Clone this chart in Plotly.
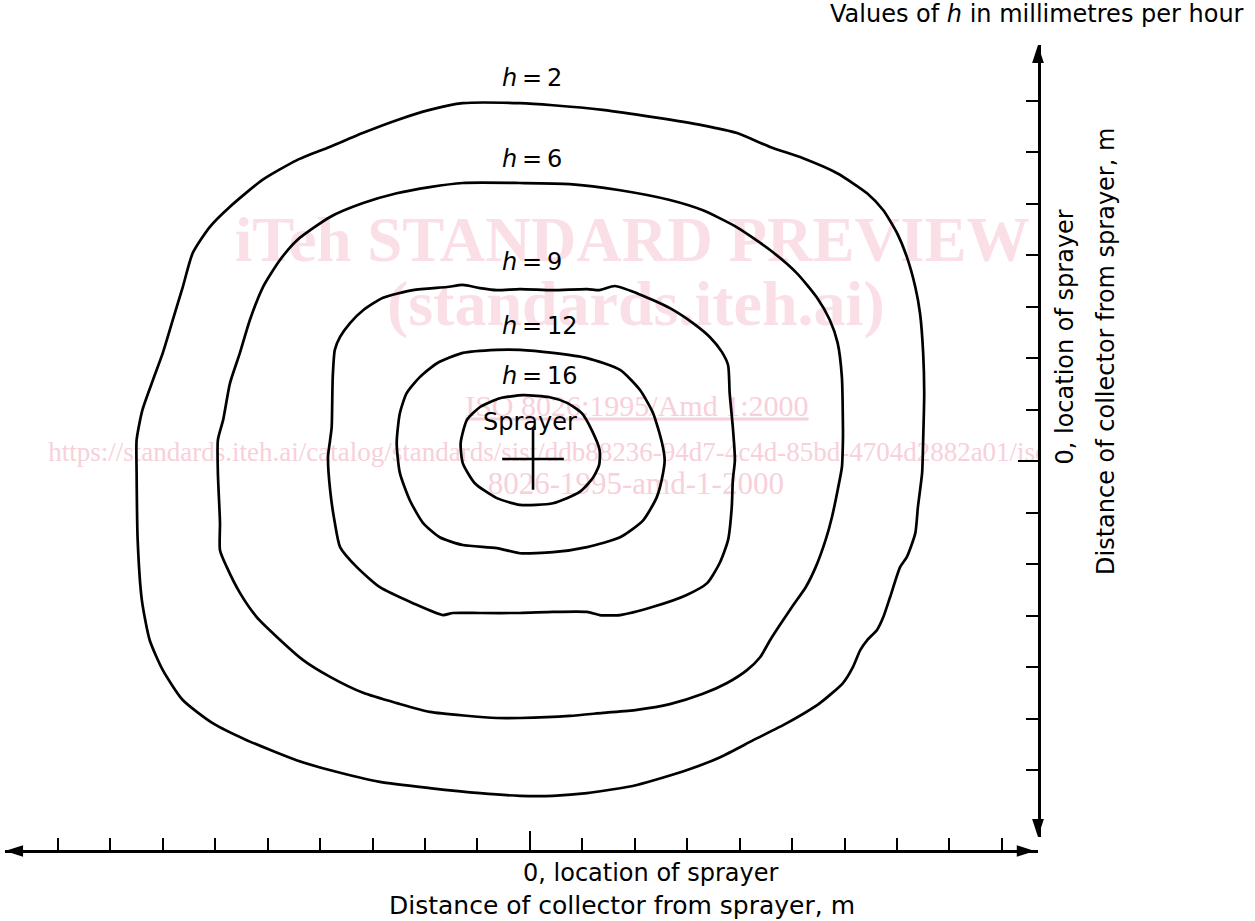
import plotly.graph_objects as go

# Lines of equal application rate h (mm/h) round the sprayer.
# Coordinates: distance of collector from sprayer, m (one tick = 1 m)
h_levels = [2, 6, 9, 12, 16]

h2_x = [-1.28, -0.19, 0.44, 1.39, 2.35, 3.30, 3.95, 4.58, 5.21, 5.86,
        6.43, 6.74, 7.00, 7.19, 7.35, 7.44, 7.50, 7.52, 7.50, 7.48,
        7.40, 7.35, 7.19, 7.06, 6.87, 6.74, 6.62, 6.43, 6.30, 6.16,
        5.97, 5.53, 4.90, 4.26, 3.63, 3.00, 2.04, 1.09, 0.44, -0.19,
        -0.95, -1.91, -2.86, -3.82, -4.45, -5.40, -6.05, -6.62, -7.00, -7.25,
        -7.40, -7.48, -7.50, -7.50, -7.39, -7.19, -7.00, -6.81, -6.62, -6.43,
        -6.11, -5.73, -5.10, -4.45, -3.82, -3.19, -2.54, -1.91, -1.28]
h2_y = [6.95, 6.95, 6.91, 6.82, 6.68, 6.52, 6.37, 6.10, 5.88, 5.59,
        5.20, 4.87, 4.43, 3.96, 3.38, 2.87, 2.10, 1.32, 0.41, -0.23,
        -0.89, -1.40, -1.86, -2.06, -2.64, -3.03, -3.28, -3.48, -3.67, -4.00,
        -4.31, -4.70, -5.09, -5.42, -5.75, -6.00, -6.29, -6.45, -6.50, -6.50,
        -6.45, -6.35, -6.23, -6.00, -5.81, -5.42, -5.09, -4.64, -4.06, -3.48,
        -2.70, -1.53, -0.23, 0.41, 0.99, 1.57, 2.10, 2.74, 3.38, 4.04,
        4.54, 4.93, 5.46, 5.84, 6.10, 6.37, 6.62, 6.82, 6.95]

h6_x = [-1.28, -0.19, 0.76, 1.72, 2.67, 3.30, 3.95, 4.58, 5.09, 5.47,
        5.72, 5.87, 5.95, 5.97, 5.97, 5.95, 5.87, 5.76, 5.64, 5.45,
        5.26, 5.02, 4.77, 4.58, 4.39, 4.14, 3.76, 3.30, 2.67, 2.04,
        1.39, 0.76, -0.19, -0.63, -1.91, -2.54, -3.18, -3.81, -4.33, -4.82,
        -5.21, -5.53, -5.78, -5.91, -5.91, -5.95, -5.95, -5.85, -5.72, -5.53,
        -5.34, -5.09, -4.77, -4.44, -3.81, -3.18, -2.54, -1.91, -1.28]
h6_y = [5.40, 5.40, 5.38, 5.26, 5.07, 4.87, 4.54, 4.10, 3.65, 3.18,
        2.74, 2.29, 1.63, 0.66, 0.41, -0.12, -0.56, -1.09, -1.53, -2.06,
        -2.45, -2.80, -3.18, -3.48, -3.81, -4.06, -4.31, -4.52, -4.72, -4.83,
        -4.89, -4.95, -4.99, -4.99, -4.87, -4.70, -4.50, -4.19, -3.86, -3.42,
        -3.03, -2.56, -2.06, -1.73, -1.20, -0.23, 0.41, 0.80, 1.51, 2.10,
        2.74, 3.38, 3.90, 4.29, 4.74, 5.01, 5.20, 5.32, 5.40]

h9_x = [-1.58, -1.28, -0.95, -0.63, -0.19, 0.44, 1.09, 1.33, 1.62, 2.04,
        2.67, 3.11, 3.43, 3.66, 3.78, 3.81, 3.87, 3.91, 3.87, 3.85,
        3.78, 3.62, 3.38, 2.99, 2.35, 1.72, 1.33, 1.09, 0.44, -0.19,
        -0.95, -1.47, -1.66, -2.23, -2.86, -3.30, -3.62, -3.72, -3.81, -3.85,
        -3.81, -3.78, -3.76, -3.72, -3.62, -3.43, -3.18, -2.80, -2.23, -1.58]
h9_y = [3.38, 3.42, 3.36, 3.32, 3.34, 3.32, 3.34, 3.32, 3.40, 3.26,
        2.97, 2.68, 2.41, 2.12, 1.86, 1.32, 0.66, 0.02, -0.37, -0.89,
        -1.53, -1.98, -2.37, -2.60, -2.83, -2.99, -2.99, -2.93, -2.93, -2.95,
        -2.95, -2.95, -2.99, -2.76, -2.45, -2.06, -1.67, -1.20, -0.56, 0.08,
        0.41, 0.66, 1.63, 2.16, 2.41, 2.68, 2.93, 3.17, 3.32, 3.38]

h12_x = [-1.28, -0.63, -0.19, 0.44, 1.09, 1.72, 2.10, 2.35, 2.52, 2.57,
         2.54, 2.42, 2.16, 1.72, 1.09, 0.44, -0.19, -0.63, -1.28, -1.72,
         -2.04, -2.29, -2.48, -2.54, -2.48, -2.35, -2.10, -1.77, -1.28]
h12_y = [2.10, 2.16, 2.16, 2.10, 2.00, 1.77, 1.38, 0.93, 0.35, 0.02,
         -0.23, -0.70, -1.15, -1.48, -1.67, -1.77, -1.79, -1.69, -1.63, -1.48,
         -1.20, -0.76, -0.23, 0.35, 0.93, 1.32, 1.63, 1.90, 2.10]

h16_x = [-0.13, 0.38, 0.71, 0.99, 1.18, 1.33, 1.32, 1.20, 0.95, 0.44,
         -0.19, -0.63, -1.05, -1.28, -1.32, -1.20, -0.95, -0.57, -0.13]
h16_y = [1.28, 1.24, 1.13, 0.93, 0.60, 0.21, -0.08, -0.33, -0.60, -0.82,
         -0.85, -0.72, -0.43, -0.04, 0.35, 0.80, 1.05, 1.22, 1.28]

# label position (left end x, centre y) for each line
label_x = [-0.57, -0.57, -0.57, -0.57, -0.57]
label_y = [7.44, 5.86, 3.86, 2.62, 1.65]

sprayer_x = [0.06]
sprayer_y = [0.04]

x_minor_ticks = [-9, -8, -7, -6, -5, -4, -3, -2, -1, 1, 2, 3, 4, 5, 6, 7, 8, 9]
y_minor_ticks = [-6, -5, -4, -3, -2, -1, 1, 2, 3, 4, 5, 6, 7]

# preview stamp on the source page
stamp_text = ["<b>iTeh STANDARD PREVIEW</b>", "<b>(standards.iteh.ai)</b>",
              "<u>ISO 8026:1995/Amd 1:2000</u>",
              "https://standards.iteh.ai/catalog/standards/sist/ddb88236-94d7-4c4d-85bd-4704d2882a01/iso-",
              "8026-1995-amd-1-2000"]
stamp_x = [1.95, 2.02, 2.04, 0.44, 2.02]
stamp_y = [4.20, 2.95, 1.03, 0.14, -0.49]
stamp_size = [63, 64, 30, 27, 31]
stamp_color = ["#fadfe6", "#fadfe6", "#f7d0da", "#f7d0da", "#f7d0da"]

X_RANGE = [-10.01, 9.69]
Y_RANGE = [-7.30, 8.08]
X_AXIS_Y = -7.57          # the x axis lies a little below the y axis' lower end
FONT = "DejaVu Sans"

fig = go.Figure()

fig.add_trace(go.Scatter(
    x=stamp_x, y=stamp_y, text=stamp_text, mode="text",
    textposition="middle center",
    textfont=dict(family="Liberation Serif", size=stamp_size, color=stamp_color),
    hoverinfo="skip"))

for xs, ys in [(h2_x, h2_y), (h6_x, h6_y), (h9_x, h9_y), (h12_x, h12_y), (h16_x, h16_y)]:
    fig.add_trace(go.Scatter(
        x=xs, y=ys, mode="lines",
        line=dict(color="black", width=2.7, shape="spline", smoothing=0.6),
        hoverinfo="skip"))

fig.add_trace(go.Scatter(
    x=sprayer_x, y=sprayer_y, mode="markers",
    marker=dict(symbol="cross-thin", size=44, line=dict(color="black", width=2.6)),
    hoverinfo="skip"))

# arrow heads at the ends of both axes, on a full-height overlay axis
fig.add_trace(go.Scatter(
    x=[X_RANGE[0], 9.63, X_RANGE[1], X_RANGE[1]],
    y=[X_AXIS_Y, X_AXIS_Y, Y_RANGE[1], Y_RANGE[0]],
    yaxis="y2", mode="markers", cliponaxis=False,
    marker=dict(symbol="arrow", size=19, angle=[-90, 90, 0, 180], color="black",
                line=dict(width=0)),
    hoverinfo="skip"))

for lx, ly, h in zip(label_x, label_y, h_levels):
    fig.add_annotation(x=lx, y=ly, text=f"<i>h</i>\u2009=\u2009{h}", showarrow=False,
                       xanchor="left", yanchor="middle")
fig.add_annotation(x=0, y=0.76, text="Sprayer", showarrow=False)

fig.add_annotation(xref="paper", yref="paper", x=1.2014, y=1.0385,
                   text="Values of <i>h</i> in millimetres per hour",
                   showarrow=False, xanchor="right", yanchor="middle")
fig.add_annotation(xref="paper", yref="paper", x=0.4995, y=-0.0273,
                   text="0, location of sprayer", showarrow=False,
                   xanchor="left", yanchor="middle")
fig.add_annotation(xref="paper", yref="paper", x=0.5973, y=-0.067,
                   text="Distance of collector from sprayer, m", showarrow=False,
                   xanchor="center", yanchor="middle", font=dict(size=25))
fig.add_annotation(xref="paper", yref="paper", x=1.0252, y=0.4764,
                   text="0, location of sprayer", showarrow=False, textangle=-90,
                   xanchor="center", yanchor="bottom")
fig.add_annotation(xref="paper", yref="paper", x=1.0658, y=0.6203,
                   text="Distance of collector from sprayer, m", showarrow=False,
                   textangle=-90, xanchor="center", yanchor="middle")

fig.update_layout(
    width=1255, height=921, autosize=False,
    margin=dict(l=5, r=217, t=45, b=70),
    paper_bgcolor="white", plot_bgcolor="rgba(0,0,0,0)",
    showlegend=False,
    font=dict(family=FONT, size=24, color="black"),
    xaxis=dict(range=X_RANGE, domain=[0, 1], anchor="free", position=0,
               showgrid=False, zeroline=False, showticklabels=False,
               showline=True, linecolor="black", linewidth=2.6,
               ticks="inside", tickvals=[0], ticklen=19, tickwidth=2.2, tickcolor="black",
               minor=dict(tickvals=x_minor_ticks, ticks="inside", ticklen=12,
                          tickwidth=2.2, tickcolor="black")),
    yaxis=dict(range=Y_RANGE, domain=[0.0174, 1], anchor="x", side="right",
               showgrid=False, zeroline=False, showticklabels=False,
               showline=True, linecolor="black", linewidth=2.6,
               ticks="inside", tickvals=[0], ticklen=20, tickwidth=2.2, tickcolor="black",
               minor=dict(tickvals=y_minor_ticks, ticks="inside", ticklen=12,
                          tickwidth=2.2, tickcolor="black")),
    yaxis2=dict(range=[X_AXIS_Y, Y_RANGE[1]], domain=[0, 1], anchor="x", visible=False),
)

fig.write_html("out.html", config={"displayModeBar": False},
               post_script="document.body.style.margin = '0';")
